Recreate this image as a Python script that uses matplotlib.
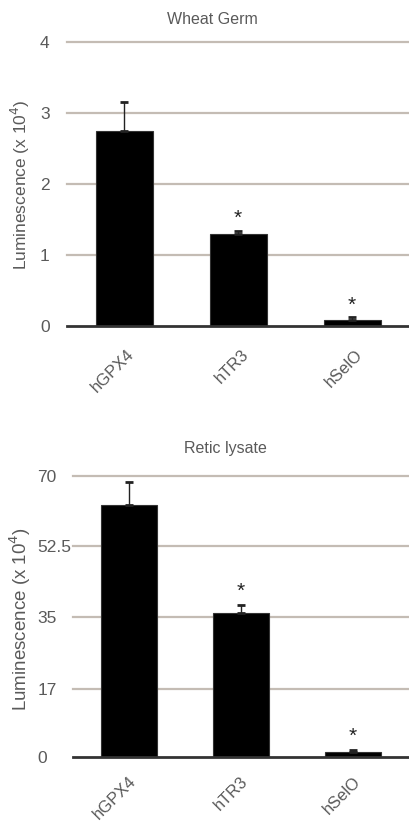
import matplotlib
matplotlib.use("Agg")
import matplotlib.pyplot as plt
import matplotlib.transforms as mtransforms

plt.rcParams['font.family'] = ['Liberation Sans', 'DejaVu Sans']

categories = ["hGPX4", "hTR3", "hSelO"]

wg_title = "Wheat Germ"
wg_values = [2.74, 1.30, 0.09]
wg_err = [0.41, 0.04, 0.03]
wg_ticks = [0, 1, 2, 3, 4]
wg_ticklabels = ["0", "1", "2", "3", "4"]
wg_star = [False, True, True]

rl_title = "Retic lysate"
rl_values = [62.8, 35.8, 1.2]
rl_err = [5.8, 2.1, 0.5]
rl_ticks = [0, 17, 35, 52.5, 70]
rl_ticklabels = ["0", "17", "35", "52.5", "70"]
rl_star = [False, True, True]

ylabel = "Luminescence (x 10$^{4}$)"

fig = plt.figure(figsize=(4.09, 8.21), dpi=100)

txt_col = "#5a5a5a"
grid_col = "#c4bcb4"


def panel(rect, title, values, err, ticks, ticklabels, stars, star_off, title_xy,
          ypad, xoff, ylab_xy, ylab_size):
    ax = fig.add_axes(rect)
    x = range(len(categories))
    ax.bar(x, values, width=0.5, color="black", edgecolor="#333333", linewidth=0.8, zorder=3)
    ax.errorbar(x, values, yerr=[[0] * len(err), err], fmt="none", ecolor="#222222",
                elinewidth=1.0, capsize=3, capthick=2, zorder=4)
    ax.set_xlim(-0.5, 2.5)
    ax.set_ylim(ticks[0], ticks[-1])
    ax.set_yticks(ticks)
    ax.set_yticklabels(ticklabels, ha="left")
    for t in ticks[1:]:
        ax.axhline(t, color=grid_col, linewidth=1.6, zorder=1, clip_on=False)
    ax.axhline(0, color="#333333", linewidth=2.0, zorder=5, clip_on=False)
    for s in ax.spines.values():
        s.set_visible(False)
    ax.tick_params(axis="y", length=0, pad=ypad, labelsize=12.5, labelcolor=txt_col)
    ax.tick_params(axis="x", length=0, pad=0, labelsize=12, labelcolor=txt_col)
    ax.set_xticks(list(x))
    ax.set_xticklabels(categories, rotation=45, ha="right", va="center",
                       rotation_mode="anchor")
    off = mtransforms.ScaledTranslation(xoff[0] / 100, -xoff[1] / 100, fig.dpi_scale_trans)
    for lab in ax.get_xticklabels():
        lab.set_transform(lab.get_transform() + off)
    for i, st in enumerate(stars):
        if st:
            ax.text(i, values[i] + err[i] + star_off, "*", ha="center", va="bottom",
                    fontsize=15, color="#222222")
    fig.text(ylab_xy[0], ylab_xy[1], ylabel, rotation=90, ha="center", va="center",
             fontsize=ylab_size, color=txt_col)
    fig.text(title_xy[0], title_xy[1], title, ha="center", va="center",
             fontsize=11.5, color=txt_col)
    return ax


panel([0.164, 0.603, 0.836, 0.346], wg_title, wg_values, wg_err, wg_ticks, wg_ticklabels,
      wg_star, 0.04, (212 / 409, 1 - 20 / 821), 19.5, (8, 26),
      (20 / 409, 1 - 185 / 821), 12.5)
panel([0.178, 0.078, 0.822, 0.342], rl_title, rl_values, rl_err, rl_ticks, rl_ticklabels,
      rl_star, 1.0, (225 / 409, 1 - 449 / 821), 25.5, (5, 22),
      (20 / 409, 1 - 619 / 821), 13.5)

fig.savefig("out.png", dpi=100)
